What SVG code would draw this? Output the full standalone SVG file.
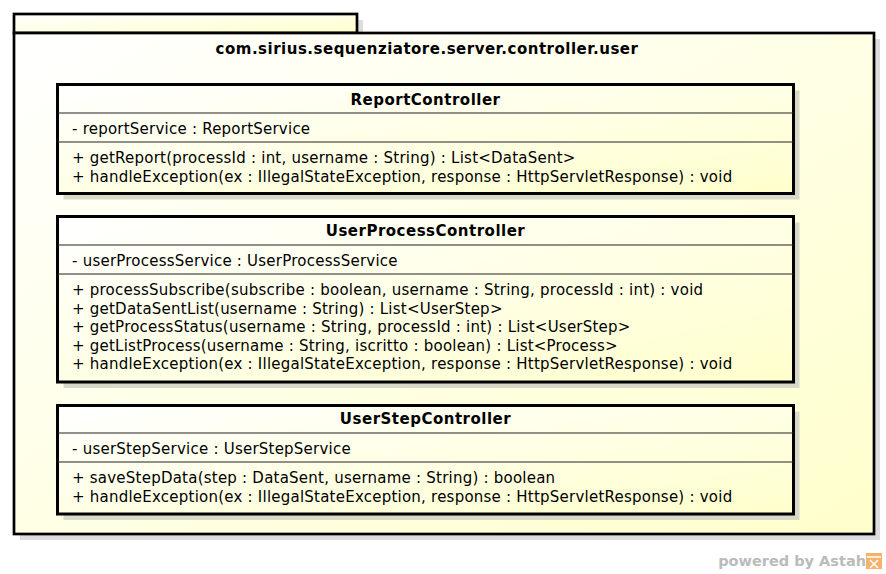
<svg xmlns="http://www.w3.org/2000/svg" width="886" height="574" viewBox="0 0 886 574">
<defs>
<linearGradient id="g" x1="0" y1="0" x2="1" y2="1">
<stop offset="0" stop-color="#FFFFFF"/>
<stop offset="1" stop-color="#FFFFCC"/>
</linearGradient>
<style>
.pkg{fill:url(#g);stroke:#000;stroke-width:2.7}
.pshadow{fill:#DDDDDD}
.cls{fill:url(#g);stroke:#000;stroke-width:3}
.cshadow{fill:#D9D9C9}
.div{stroke:#222;stroke-width:1.2}
text{font-family:"DejaVu Sans","Liberation Sans",sans-serif;font-size:15px;fill:#000;letter-spacing:0.23px}
.b{font-weight:bold;text-anchor:middle;letter-spacing:0.5px}
.pw{font-weight:bold;fill:#BBBBBB;font-size:14.5px;text-anchor:end;letter-spacing:0}
</style>
</defs>
<g id="package">
<rect class="pshadow" x="20" y="20" width="343" height="19"/>
<rect class="pshadow" x="20" y="39" width="860" height="501"/>
<rect class="pkg" x="14" y="14" width="343" height="19"/>
<rect class="pkg" x="14" y="33" width="860" height="501"/>
<text class="b" x="427" y="54">com.sirius.sequenziatore.server.controller.user</text>
</g>
<g id="ReportController">
<rect class="cshadow" x="63.5" y="90.5" width="736" height="109"/>
<rect class="cls" x="57.5" y="84.5" width="736" height="109"/>
<line class="div" x1="57.5" y1="113" x2="793.5" y2="113"/>
<line class="div" x1="57.5" y1="142" x2="793.5" y2="142"/>
<text class="b" x="425.5" y="105">ReportController</text>
<text x="72" y="134">- reportService : ReportService</text>
<text x="72" y="163">+ getReport(processId : int, username : String) : List&lt;DataSent&gt;</text>
<text x="72" y="182">+ handleException(ex : IllegalStateException, response : HttpServletResponse) : void</text>
</g>
<g id="UserProcessController">
<rect class="cshadow" x="63.5" y="222.5" width="736" height="165.5"/>
<rect class="cls" x="57.5" y="216.5" width="736" height="165.5"/>
<line class="div" x1="57.5" y1="245" x2="793.5" y2="245"/>
<line class="div" x1="57.5" y1="274" x2="793.5" y2="274"/>
<text class="b" x="425.5" y="236">UserProcessController</text>
<text x="72" y="266">- userProcessService : UserProcessService</text>
<text x="72" y="295">+ processSubscribe(subscribe : boolean, username : String, processId : int) : void</text>
<text x="72" y="314">+ getDataSentList(username : String) : List&lt;UserStep&gt;</text>
<text x="72" y="332">+ getProcessStatus(username : String, processId : int) : List&lt;UserStep&gt;</text>
<text x="72" y="351">+ getListProcess(username : String, iscritto : boolean) : List&lt;Process&gt;</text>
<text x="72" y="369">+ handleException(ex : IllegalStateException, response : HttpServletResponse) : void</text>
</g>
<g id="UserStepController">
<rect class="cshadow" x="63.5" y="411.5" width="736" height="108.5"/>
<rect class="cls" x="57.5" y="405.5" width="736" height="108.5"/>
<line class="div" x1="57.5" y1="433" x2="793.5" y2="433"/>
<line class="div" x1="57.5" y1="462" x2="793.5" y2="462"/>
<text class="b" x="425.5" y="424">UserStepController</text>
<text x="72" y="454">- userStepService : UserStepService</text>
<text x="72" y="483">+ saveStepData(step : DataSent, username : String) : boolean</text>
<text x="72" y="502">+ handleException(ex : IllegalStateException, response : HttpServletResponse) : void</text>
</g>
<g id="connectors"></g>
<g id="watermark">
<text class="pw" x="866" y="566">powered by Astah</text>
<rect x="866" y="553" width="16" height="16" fill="#F5B26B"/>
<path d="M867 557 L881 557 M870 560 L878 568 M878 560 L870 568" stroke="#FFFFFF" stroke-width="1.5" fill="none"/>
</g>
</svg>
